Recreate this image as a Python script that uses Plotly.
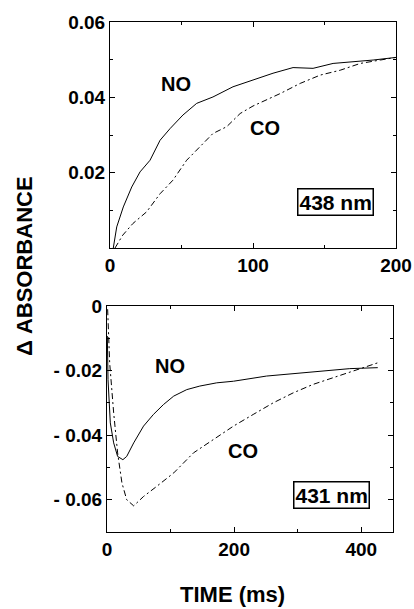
import plotly.graph_objects as go

# ---- data: top panel (438 nm) ----
t_top_no = [2.3, 4.7, 9.3, 15.2, 21, 28, 35, 42, 51, 60.6, 72, 86, 100, 114, 128, 142, 156, 170, 184, 200]
a_top_no = [0.0, 0.0056, 0.0109, 0.0162, 0.0202, 0.0233, 0.0286, 0.0317, 0.0353, 0.0384, 0.0401, 0.0428,
            0.0446, 0.0464, 0.0479, 0.0477, 0.049, 0.0494, 0.0499, 0.0506]
t_top_co = [3.5, 8.9, 16, 25.6, 35, 44, 53.6, 63, 72, 81.6, 91, 100, 109.6, 119, 133, 147, 161, 175, 189, 200]
a_top_co = [0.0, 0.0034, 0.0065, 0.0096, 0.0144, 0.018, 0.0233, 0.0269, 0.0304, 0.0322, 0.0357, 0.0377,
            0.0393, 0.041, 0.0437, 0.0459, 0.0472, 0.049, 0.0499, 0.0506]

# ---- data: bottom panel (431 nm) ----
t_bot_no = [0.5, 1.6, 5.2, 10.5, 16.7, 25, 31, 42, 57.5, 73, 89, 105, 125.5, 146, 172.6, 199, 251, 303, 335, 382, 426]
a_bot_no = [-0.0093, -0.0228, -0.0362, -0.0424, -0.0466, -0.0476, -0.0466, -0.0424, -0.0372, -0.0336, -0.0305,
            -0.0279, -0.0259, -0.0248, -0.0238, -0.0233, -0.0217, -0.0207, -0.0202, -0.0194, -0.0191]
t_bot_co = [1, 4.2, 10.5, 16.7, 23.5, 31, 42, 57.5, 78, 105, 136, 167, 199, 230, 261.5, 293, 324, 356, 387, 426]
a_bot_co = [-0.001, -0.0176, -0.0331, -0.0455, -0.0548, -0.06, -0.0619, -0.059, -0.0559, -0.0517, -0.0455,
            -0.0414, -0.0372, -0.0336, -0.03, -0.0269, -0.0243, -0.0222, -0.0202, -0.0176]

top_xticks = [0, 100, 200]
top_yticks = [0.02, 0.04, 0.06]
top_yticktext = ["0.02", "0.04", "0.06"]
bot_xticks = [0, 200, 400]
bot_yticks = [0, -0.02, -0.04, -0.06]
bot_yticktext = ["0", "- 0.02", "- 0.04", "- 0.06"]

W, H = 414, 609
FONT = "Liberation Sans, Arial, sans-serif"

def px(x):
    return x / W

def py(y):
    return 1 - y / H

fig = go.Figure()
line_solid = dict(color="black", width=1)
line_dd = dict(color="black", width=1, dash="6px,3px,2px,3px")

fig.add_trace(go.Scatter(x=t_top_no, y=a_top_no, mode="lines", line=line_solid, xaxis="x", yaxis="y"))
fig.add_trace(go.Scatter(x=t_top_co, y=a_top_co, mode="lines", line=line_dd, xaxis="x", yaxis="y"))
fig.add_trace(go.Scatter(x=t_bot_no, y=a_bot_no, mode="lines", line=line_solid, xaxis="x2", yaxis="y2"))
fig.add_trace(go.Scatter(x=t_bot_co, y=a_bot_co, mode="lines", line=line_dd, xaxis="x2", yaxis="y2"))

tickfont = dict(family=FONT, size=19, color="black", weight="bold")
common = dict(showgrid=False, zeroline=False, showline=True, linecolor="black", linewidth=1,
              mirror="allticks", ticks="inside", ticklen=5, tickcolor="black", tickfont=tickfont,
              automargin=False)

fig.update_layout(
    width=W, height=H, showlegend=False, autosize=False,
    paper_bgcolor="white", plot_bgcolor="white",
    margin=dict(l=0, r=0, t=0, b=0, pad=0, autoexpand=False),
    font=dict(family=FONT, color="black"),
    xaxis=dict(domain=[px(110), px(396)], range=[0, 200], anchor="y", tickvals=top_xticks,
               minor=dict(tickvals=[50, 150], ticks="inside", ticklen=3, tickcolor="black"), **common),
    yaxis=dict(domain=[py(248), py(22)], range=[0, 0.06], anchor="x", tickvals=top_yticks,
               ticktext=top_yticktext,
               minor=dict(tickvals=[0.01, 0.03, 0.05], ticks="inside", ticklen=3, tickcolor="black"), **common),
    xaxis2=dict(domain=[px(107), px(393)], range=[0, 450], anchor="y2", tickvals=bot_xticks,
                minor=dict(tickvals=[100, 300], ticks="inside", ticklen=3, tickcolor="black"), **common),
    yaxis2=dict(domain=[py(532), py(306)], range=[-0.07, 0], anchor="x2", tickvals=bot_yticks,
                ticktext=bot_yticktext,
                minor=dict(tickvals=[-0.01, -0.03, -0.05], ticks="inside", ticklen=3, tickcolor="black"), **common),
)

def bold(s):
    return "<b>" + s + "</b>"

ann = [
    dict(x=176, y=84, text=bold("NO"), size=20, border=False),
    dict(x=265, y=128, text=bold("CO"), size=20, border=False),
    dict(x=335, y=202, text=bold("438 nm"), size=21, border=True),
    dict(x=170, y=366, text=bold("NO"), size=20, border=False),
    dict(x=243, y=451, text=bold("CO"), size=20, border=False),
    dict(x=331, y=495, text=bold("431 nm"), size=21, border=True),
]
for a in ann:
    fig.add_annotation(x=px(a["x"]), y=py(a["y"]), xref="paper", yref="paper", text=a["text"],
                       showarrow=False, xanchor="center", yanchor="middle",
                       font=dict(family=FONT, size=a["size"], color="black"),
                       bordercolor="black" if a["border"] else "rgba(0,0,0,0)", borderwidth=1.5 if a["border"] else 0,
                       borderpad=1, bgcolor="white" if a["border"] else "rgba(0,0,0,0)")

fig.add_annotation(x=px(24), y=py(266), xref="paper", yref="paper", text=bold("\u0394 ABSORBANCE"),
                   showarrow=False, textangle=-90, xanchor="center", yanchor="middle",
                   font=dict(family=FONT, size=22, color="black"))
fig.add_annotation(x=px(233), y=py(594), xref="paper", yref="paper", text=bold("TIME (ms)"),
                   showarrow=False, xanchor="center", yanchor="middle",
                   font=dict(family=FONT, size=22, color="black"))

# remove the default page margin so the 414x609 figure fills the window exactly
fig.write_html("out.html", config={"displayModeBar": False},
               post_script="document.body.style.margin='0';document.body.style.overflow='hidden';")
